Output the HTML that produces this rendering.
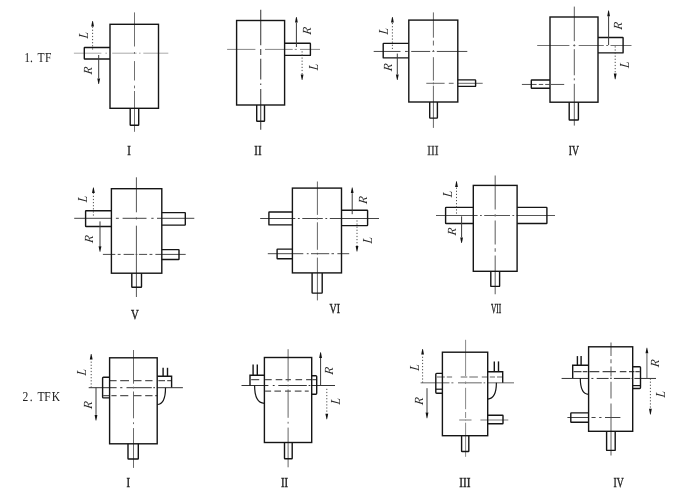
<!DOCTYPE html>
<html lang="en"><head><meta charset="utf-8"><title>TF / TFK</title>
<style>
html,body{margin:0;padding:0;background:#fff;}
body{width:681px;height:492px;overflow:hidden;}
svg{display:block;will-change:transform;}
.o{fill:none;stroke:#151515;stroke-linejoin:miter;stroke-linecap:butt;}
.it{font-family:"Liberation Serif",serif;font-style:italic;fill:#2a2a2a;}
.rm{font-family:"Liberation Serif",serif;}
</style></head>
<body>
<svg width="681" height="492" viewBox="0 0 681 492">
<rect x="0" y="0" width="681" height="492" fill="#fff"/>
<!-- row 1: TF -->
<text transform="translate(0,61.9) scale(0.85,1)" x="28.47 35.18 40.0 44.24 52.94" y="0" class="rm" text-rendering="geometricPrecision" font-size="13.6" fill="#222">1. TF</text>
<!-- TF I -->
<path d="M73.9,53.2H101.4M105.4,53.2H107M112.2,53.2H136.6M139,53.2H140.6M143.3,53.2H168.3" fill="none" stroke="#a0a0a0" stroke-width="0.9"/>
<path d="M134.5,12.4V46.5M134.5,52V53.8M134.5,61.1V80.5M134.5,85.6V88.3M134.5,91V131.8" fill="none" stroke="#707070" stroke-width="1.0"/>
<rect x="110" y="24.3" width="48.5" height="84.0" class="o" stroke-width="1.4"/>
<path d="M110,47.5 H84.8 Q84.3,47.5 84.3,48.0 V58.5 Q84.3,59 84.8,59 H110" class="o" stroke-width="1.4"/>
<path d="M130.2,108.3 V124.7 Q130.2,125.2 130.7,125.2 H138.2 Q138.7,125.2 138.7,124.7 V108.3" class="o" stroke-width="1.4"/>
<line x1="92.6" y1="49.5" x2="92.6" y2="26.6" stroke="#444" stroke-width="0.95" stroke-dasharray="1.2 1.9"/>
<path d="M92.3,21 L92.9,21 L94.0,26.6 L91.2,26.6 Z" fill="#111"/>
<line x1="98.7" y1="55" x2="98.7" y2="78.4" stroke="#3a3a3a" stroke-width="1.0"/>
<path d="M98.4,84 L99.0,84 L100.1,78.4 L97.3,78.4 Z" fill="#111"/>
<text transform="translate(84,35) rotate(-90) scale(0.85,1) skewX(-8)" x="0" y="0" text-anchor="middle" dominant-baseline="central" class="it" font-size="13.8">L</text>
<text transform="translate(88,70.5) rotate(-90) scale(1.0,1) skewX(-8)" x="0" y="0" text-anchor="middle" dominant-baseline="central" class="it" font-size="12.4">R</text>
<text x="127.2" y="155.2" text-anchor="start" class="rm" text-rendering="geometricPrecision" font-size="13.8" fill="#222" textLength="3.6" lengthAdjust="spacingAndGlyphs" stroke="#222" stroke-width="0.4">I</text>
<!-- TF II -->
<path d="M227.1,49.4H255.4M265,49.4H292.7M294.7,49.4H296.8M300,49.4H320" fill="none" stroke="#888" stroke-width="1.0"/>
<path d="M260.7,9.8V45.2M260.7,48.9V55M260.7,58.8V79.5M260.7,83.5V85.1M260.7,89V129.7" fill="none" stroke="#555" stroke-width="1.2"/>
<rect x="236.6" y="20.5" width="48.0" height="84.5" class="o" stroke-width="1.4"/>
<path d="M284.6,43.3 H309.9 Q310.4,43.3 310.4,43.8 V54.9 Q310.4,55.4 309.9,55.4 H284.6" class="o" stroke-width="1.4"/>
<path d="M256.7,105 V120.8 Q256.7,121.3 257.2,121.3 H264.0 Q264.5,121.3 264.5,120.8 V105" class="o" stroke-width="1.4"/>
<line x1="296.4" y1="47" x2="296.4" y2="22.6" stroke="#3a3a3a" stroke-width="1.0"/>
<path d="M296.1,17 L296.7,17 L297.8,22.6 L295.0,22.6 Z" fill="#111"/>
<line x1="302.1" y1="51.3" x2="302.1" y2="74.4" stroke="#444" stroke-width="0.95" stroke-dasharray="1.2 1.9"/>
<path d="M301.8,80 L302.4,80 L303.5,74.4 L300.7,74.4 Z" fill="#111"/>
<text transform="translate(307,30.6) rotate(-90) scale(1.0,1) skewX(-8)" x="0" y="0" text-anchor="middle" dominant-baseline="central" class="it" font-size="12.4">R</text>
<text transform="translate(313.6,66.8) rotate(-90) scale(0.85,1) skewX(-8)" x="0" y="0" text-anchor="middle" dominant-baseline="central" class="it" font-size="13.8">L</text>
<text x="254.3" y="155.2" text-anchor="start" class="rm" text-rendering="geometricPrecision" font-size="13.8" fill="#222" textLength="7.2" lengthAdjust="spacingAndGlyphs" stroke="#222" stroke-width="0.4">II</text>
<!-- TF III -->
<path d="M373.7,51.45H400.5M405,51.45H407.8M411.2,51.45H430.2M432.4,51.45H434.4M436.8,51.45H467.3" fill="none" stroke="#4a4a4a" stroke-width="1.0"/>
<path d="M433.4,12.4V37.7M433.4,40.6V45.5M433.4,50V52M433.4,57.2V80.6M433.4,82.5V84.3M433.4,85.7V127.9" fill="none" stroke="#666" stroke-width="1.0"/>
<path d="M426.3,83.3H444.6M448.8,83.3H453.6M457.8,83.3H482.7" fill="none" stroke="#666" stroke-width="1.0"/>
<rect x="408.8" y="20.1" width="49.0" height="81.9" class="o" stroke-width="1.4"/>
<path d="M408.8,43.4 H383.7 Q383.2,43.4 383.2,43.9 V57.4 Q383.2,57.9 383.7,57.9 H408.8" class="o" stroke-width="1.4"/>
<path d="M457.8,79.9 H475.1 Q475.6,79.9 475.6,80.4 V85.9 Q475.6,86.4 475.1,86.4 H457.8" class="o" stroke-width="1.4"/>
<path d="M429.7,102 V117.6 Q429.7,118.1 430.2,118.1 H436.9 Q437.4,118.1 437.4,117.6 V102" class="o" stroke-width="1.4"/>
<line x1="392.4" y1="49" x2="392.4" y2="22.6" stroke="#444" stroke-width="0.95" stroke-dasharray="1.2 1.9"/>
<path d="M392.1,17 L392.7,17 L393.8,22.6 L391.0,22.6 Z" fill="#111"/>
<line x1="397.3" y1="53.6" x2="397.3" y2="74.4" stroke="#3a3a3a" stroke-width="1.0"/>
<path d="M397.0,80 L397.6,80 L398.7,74.4 L395.9,74.4 Z" fill="#111"/>
<text transform="translate(384,31) rotate(-90) scale(0.85,1) skewX(-8)" x="0" y="0" text-anchor="middle" dominant-baseline="central" class="it" font-size="13.8">L</text>
<text transform="translate(388,67.2) rotate(-90) scale(1.0,1) skewX(-8)" x="0" y="0" text-anchor="middle" dominant-baseline="central" class="it" font-size="12.4">R</text>
<text x="427.3" y="155.2" text-anchor="start" class="rm" text-rendering="geometricPrecision" font-size="13.8" fill="#444" textLength="11.2" lengthAdjust="spacingAndGlyphs" stroke="#444" stroke-width="0.4">III</text>
<!-- TF IV -->
<path d="M537.2,45.5H569.4M573.2,45.5H575.4M578.7,45.5H603.8M606.2,45.5H608.2M610.5,45.5H631.5" fill="none" stroke="#707070" stroke-width="1.0"/>
<path d="M574.3,6.6V41.2M574.3,44.4V46.4M574.3,49.2V75.3M574.3,78.3V80.3M574.3,83.8V125.6" fill="none" stroke="#5c5c5c" stroke-width="1.0"/>
<path d="M521.9,84.45H536.6M538.8,84.45H543.2M545.2,84.45H549.5M551,84.45H564.2" fill="none" stroke="#505050" stroke-width="1.0"/>
<rect x="550" y="17" width="48" height="85.2" class="o" stroke-width="1.4"/>
<path d="M598,37.5 H622.6 Q623.1,37.5 623.1,38.0 V52.4 Q623.1,52.9 622.6,52.9 H598" class="o" stroke-width="1.4"/>
<path d="M550,80 H531.8 Q531.3,80 531.3,80.5 V87.7 Q531.3,88.2 531.8,88.2 H550" class="o" stroke-width="1.4"/>
<path d="M569.2,102.2 V119.5 Q569.2,120 569.7,120 H577.9 Q578.4,120 578.4,119.5 V102.2" class="o" stroke-width="1.4"/>
<line x1="608.6" y1="45" x2="608.6" y2="16.2" stroke="#3a3a3a" stroke-width="1.0"/>
<path d="M608.3,10.6 L608.9,10.6 L610.0,16.2 L607.2,16.2 Z" fill="#111"/>
<line x1="615.2" y1="46.3" x2="615.2" y2="73.6" stroke="#444" stroke-width="0.95" stroke-dasharray="1.2 1.9"/>
<path d="M614.9,79.2 L615.5,79.2 L616.6,73.6 L613.8,73.6 Z" fill="#111"/>
<text transform="translate(618.4,25.6) rotate(-90) scale(1.0,1) skewX(-8)" x="0" y="0" text-anchor="middle" dominant-baseline="central" class="it" font-size="12.4">R</text>
<text transform="translate(625,64.5) rotate(-90) scale(0.85,1) skewX(-8)" x="0" y="0" text-anchor="middle" dominant-baseline="central" class="it" font-size="13.8">L</text>
<text x="568.7" y="155.2" text-anchor="start" class="rm" text-rendering="geometricPrecision" font-size="13.8" fill="#222" textLength="10.2" lengthAdjust="spacingAndGlyphs" stroke="#222" stroke-width="0.4">IV</text>
<!-- row 2 -->
<!-- TF V -->
<path d="M74.2,218.3H111.6M115.9,218.3H118.8M122.6,218.3H146.5M151.3,218.3H153.6M157,218.3H194.3" fill="none" stroke="#444" stroke-width="1.0"/>
<path d="M136.4,177.3V212.3M136.4,217.4V219.4M136.4,225.7V297" fill="none" stroke="#555" stroke-width="1.0"/>
<path d="M102.9,254.4H115.3M117.7,254.4H120.6M123.6,254.4H134.2M135.6,254.4H137.4M138.9,254.4H147.1M149.5,254.4H152.4M155.4,254.4H185.7" fill="none" stroke="#4a4a4a" stroke-width="1.0"/>
<rect x="111.4" y="188.7" width="50.4" height="84.5" class="o" stroke-width="1.4"/>
<path d="M111.4,210.7 H86.1 Q85.6,210.7 85.6,211.2 V226.0 Q85.6,226.5 86.1,226.5 H111.4" class="o" stroke-width="1.4"/>
<path d="M161.8,212.6 H184.8 Q185.3,212.6 185.3,213.1 V224.6 Q185.3,225.1 184.8,225.1 H161.8" class="o" stroke-width="1.4"/>
<path d="M161.8,249.6 H178.5 Q179,249.6 179,250.1 V259.0 Q179,259.5 178.5,259.5 H161.8" class="o" stroke-width="1.4"/>
<path d="M131.8,273.2 V286.7 Q131.8,287.2 132.3,287.2 H141.0 Q141.5,287.2 141.5,286.7 V273.2" class="o" stroke-width="1.4"/>
<line x1="93.4" y1="215.6" x2="93.4" y2="193.1" stroke="#444" stroke-width="0.95" stroke-dasharray="1.2 1.9"/>
<path d="M93.1,187.5 L93.7,187.5 L94.8,193.1 L92.0,193.1 Z" fill="#111"/>
<line x1="100" y1="221.4" x2="100" y2="246.2" stroke="#3a3a3a" stroke-width="1.0"/>
<path d="M99.7,251.8 L100.3,251.8 L101.4,246.2 L98.6,246.2 Z" fill="#111"/>
<text transform="translate(83,198.8) rotate(-90) scale(0.85,1) skewX(-8)" x="0" y="0" text-anchor="middle" dominant-baseline="central" class="it" font-size="13.8">L</text>
<text transform="translate(88.6,238.9) rotate(-90) scale(1.0,1) skewX(-8)" x="0" y="0" text-anchor="middle" dominant-baseline="central" class="it" font-size="12.4">R</text>
<text x="131.0" y="319.2" text-anchor="start" class="rm" text-rendering="geometricPrecision" font-size="13.8" fill="#222" textLength="7.8" lengthAdjust="spacingAndGlyphs" stroke="#222" stroke-width="0.4">V</text>
<!-- TF VI -->
<path d="M260.2,218.5H295.3M297.9,218.5H299.7M302.3,218.5H322.8M325.4,218.5H327.2M329.8,218.5H379" fill="none" stroke="#444" stroke-width="1.0"/>
<path d="M317.4,181.5V214.9M317.4,217.7V219.5M317.4,222.3V249.8M317.4,252.8V254.6M317.4,257.6V300.4" fill="none" stroke="#666" stroke-width="1.0"/>
<path d="M267.8,253.7H303.3M306.8,253.7H308.6M311,253.7H329.2M331.5,253.7H334M337.4,253.7H349.2" fill="none" stroke="#4a4a4a" stroke-width="1.0"/>
<rect x="292.4" y="188.1" width="49.1" height="84.8" class="o" stroke-width="1.4"/>
<path d="M292.4,212 H269.4 Q268.9,212 268.9,212.5 V224.4 Q268.9,224.9 269.4,224.9 H292.4" class="o" stroke-width="1.4"/>
<path d="M341.5,210.3 H367.1 Q367.6,210.3 367.6,210.8 V225.1 Q367.6,225.6 367.1,225.6 H341.5" class="o" stroke-width="1.4"/>
<path d="M292.4,249.1 H277.6 Q277.1,249.1 277.1,249.6 V258.3 Q277.1,258.8 277.6,258.8 H292.4" class="o" stroke-width="1.4"/>
<path d="M312.1,272.9 V292.6 Q312.1,293.1 312.6,293.1 H321.7 Q322.2,293.1 322.2,292.6 V272.9" class="o" stroke-width="1.4"/>
<line x1="352.2" y1="214.2" x2="352.2" y2="193.1" stroke="#3a3a3a" stroke-width="1.0"/>
<path d="M351.9,187.5 L352.5,187.5 L353.6,193.1 L350.8,193.1 Z" fill="#111"/>
<line x1="357" y1="220.4" x2="357" y2="246.0" stroke="#444" stroke-width="0.95" stroke-dasharray="1.2 1.9"/>
<path d="M356.7,251.6 L357.3,251.6 L358.4,246.0 L355.6,246.0 Z" fill="#111"/>
<text transform="translate(363.1,199.8) rotate(-90) scale(1.0,1) skewX(-8)" x="0" y="0" text-anchor="middle" dominant-baseline="central" class="it" font-size="12.4">R</text>
<text transform="translate(367.5,240) rotate(-90) scale(0.85,1) skewX(-8)" x="0" y="0" text-anchor="middle" dominant-baseline="central" class="it" font-size="13.8">L</text>
<text x="329.45" y="313.4" text-anchor="start" class="rm" text-rendering="geometricPrecision" font-size="13.8" fill="#222" textLength="10.5" lengthAdjust="spacingAndGlyphs" stroke="#222" stroke-width="0.4">VI</text>
<!-- TF VII -->
<path d="M436,215.5H477.6M480,215.5H481.8M484.2,215.5H510M512.4,215.5H514.2M516.6,215.5H555" fill="none" stroke="#555" stroke-width="1.0"/>
<path d="M495.2,175.4V209.5M495.2,214.2V216.4M495.2,220.5V244.6M495.2,248.2V251.8M495.2,255.5V294.2" fill="none" stroke="#707070" stroke-width="1.15"/>
<rect x="473.3" y="185.4" width="43.8" height="85.9" class="o" stroke-width="1.4"/>
<path d="M473.3,207.4 H446.1 Q445.6,207.4 445.6,207.9 V223.0 Q445.6,223.5 446.1,223.5 H473.3" class="o" stroke-width="1.4"/>
<path d="M517.1,207.4 H546.4 Q546.9,207.4 546.9,207.9 V223.0 Q546.9,223.5 546.4,223.5 H517.1" class="o" stroke-width="1.4"/>
<path d="M490.8,271.3 V285.9 Q490.8,286.4 491.3,286.4 H499.1 Q499.6,286.4 499.6,285.9 V271.3" class="o" stroke-width="1.4"/>
<line x1="456.5" y1="213.6" x2="456.5" y2="186.9" stroke="#444" stroke-width="0.95" stroke-dasharray="1.2 1.9"/>
<path d="M456.2,181.3 L456.8,181.3 L457.9,186.9 L455.1,186.9 Z" fill="#111"/>
<line x1="461.6" y1="216.3" x2="461.6" y2="237.4" stroke="#3a3a3a" stroke-width="1.0"/>
<path d="M461.3,243 L461.9,243 L463.0,237.4 L460.2,237.4 Z" fill="#111"/>
<text transform="translate(447.6,193.6) rotate(-90) scale(0.85,1) skewX(-8)" x="0" y="0" text-anchor="middle" dominant-baseline="central" class="it" font-size="13.8">L</text>
<text transform="translate(451.7,231.3) rotate(-90) scale(1.0,1) skewX(-8)" x="0" y="0" text-anchor="middle" dominant-baseline="central" class="it" font-size="12.4">R</text>
<text x="490.9" y="313.4" text-anchor="start" class="rm" text-rendering="geometricPrecision" font-size="13.8" fill="#222" textLength="10.4" lengthAdjust="spacingAndGlyphs" stroke="#222" stroke-width="0.4">VII</text>
<!-- row 3: TFK -->
<text transform="translate(0,400.9) scale(0.85,1)" x="26.47 35.06 40.0 44.24 52.12 60.94" y="0" class="rm" text-rendering="geometricPrecision" font-size="13.6" fill="#222">2. TFK</text>
<!-- TFK I -->
<path d="M88.7,387.7H116.6M120.2,387.7H122.4M126.5,387.7H151.8M153.3,387.7H155M157,387.7H182.9" fill="none" stroke="#333" stroke-width="1.0"/>
<path d="M133.5,350V383.7M133.5,386.7V388.5M133.5,391.5V418.3M133.5,422.3V424.1M133.5,428.1V467.9" fill="none" stroke="#6a6a6a" stroke-width="1.0"/>
<path d="M110,380.65H116.6M120.2,380.65H129M133.5,380.65H141.5M145.2,380.65H152.5M158.4,380.65H165M167.2,380.65H171.6" fill="none" stroke="#555" stroke-width="1.2"/>
<path d="M103.2,395.7H109M111.4,395.7H116.6M120.2,395.7H128.3M133.5,395.7H141.5M145.2,395.7H152.5M155.2,395.7H157.2" fill="none" stroke="#555" stroke-width="1.2"/>
<rect x="109.6" y="357.8" width="47.6" height="86.0" class="o" stroke-width="1.4"/>
<path d="M109.4,377.3 H103.5 Q102.6,377.3 102.6,378.2 V397.0 Q102.6,397.9 103.5,397.9 H109.4" class="o" stroke-width="1.4"/>
<path d="M157.2,376.3 L171.6,376.3 L171.6,387.6" class="o" stroke-width="1.4"/>
<path d="M163.1,367.8 L163.1,376.3" class="o" stroke-width="1.4"/>
<path d="M167.5,367.8 L167.5,376.3" class="o" stroke-width="1.4"/>
<path d="M165.5,387.7 C165.5,398.5 163,404.3 157.2,404.5" class="o" stroke-width="1.2"/>
<path d="M128,443.8 V458.5 Q128,459 128.5,459 H137.8 Q138.3,459 138.3,458.5 V443.8" class="o" stroke-width="1.4"/>
<line x1="91.2" y1="387.6" x2="91.2" y2="359.6" stroke="#444" stroke-width="0.95" stroke-dasharray="1.2 1.9"/>
<path d="M90.9,354 L91.5,354 L92.6,359.6 L89.8,359.6 Z" fill="#111"/>
<line x1="96" y1="387.6" x2="96" y2="414.9" stroke="#3a3a3a" stroke-width="1.0"/>
<path d="M95.7,420.5 L96.3,420.5 L97.4,414.9 L94.6,414.9 Z" fill="#111"/>
<text transform="translate(81.6,372) rotate(-90) scale(0.85,1) skewX(-8)" x="0" y="0" text-anchor="middle" dominant-baseline="central" class="it" font-size="13.8">L</text>
<text transform="translate(87.8,405) rotate(-90) scale(1.0,1) skewX(-8)" x="0" y="0" text-anchor="middle" dominant-baseline="central" class="it" font-size="12.4">R</text>
<text x="126.6" y="487.2" text-anchor="start" class="rm" text-rendering="geometricPrecision" font-size="13.8" fill="#222" textLength="3.6" lengthAdjust="spacingAndGlyphs" stroke="#222" stroke-width="0.4">I</text>
<!-- TFK II -->
<path d="M241.5,385.5H268.4M272.8,385.5H274.6M278.3,385.5H306.8M308.6,385.5H310.4M312,385.5H335" fill="none" stroke="#333" stroke-width="1.0"/>
<path d="M288.1,349.2V381.6M288.1,384.6V386.4M288.1,389.4V417.8M288.1,421.8V423.6M288.1,427.6V467.3" fill="none" stroke="#666" stroke-width="1.0"/>
<path d="M251.2,379.6H259.2M265.1,379.6H271.7M275.7,379.6H282.3M285.6,379.6H290.9M295.5,379.6H302.1M306.1,379.6H311.5M312.4,379.6H316.4" fill="none" stroke="#555" stroke-width="1.2"/>
<path d="M265.1,391.2H271.1M274.4,391.2H281M285,391.2H290.9M294.8,391.2H301.5M304.8,391.2H308.7" fill="none" stroke="#555" stroke-width="1.2"/>
<rect x="264.4" y="357.5" width="47.3" height="85.0" class="o" stroke-width="1.4"/>
<path d="M311.7,375.7 H315.8 Q316.7,375.7 316.7,376.6 V393.3 Q316.7,394.2 315.8,394.2 H311.7" class="o" stroke-width="1.4"/>
<path d="M264.4,375.2 L250,375.2 L250,385.5" class="o" stroke-width="1.4"/>
<path d="M253.1,364.5 L253.1,375.2" class="o" stroke-width="1.4"/>
<path d="M257.3,364.5 L257.3,375.2" class="o" stroke-width="1.4"/>
<path d="M254.6,385.5 C254.6,397 257.5,403.1 264.4,403.3" class="o" stroke-width="1.2"/>
<path d="M284.5,442.5 V458.3 Q284.5,458.8 285.0,458.8 H291.7 Q292.2,458.8 292.2,458.3 V442.5" class="o" stroke-width="1.4"/>
<line x1="320.6" y1="385.1" x2="320.6" y2="357.9" stroke="#3a3a3a" stroke-width="1.0"/>
<path d="M320.3,352.3 L320.9,352.3 L322.0,357.9 L319.2,357.9 Z" fill="#111"/>
<line x1="326.8" y1="388.8" x2="326.8" y2="413.7" stroke="#444" stroke-width="0.95" stroke-dasharray="1.2 1.9"/>
<path d="M326.5,419.3 L327.1,419.3 L328.2,413.7 L325.4,413.7 Z" fill="#111"/>
<text transform="translate(329,370.7) rotate(-90) scale(1.0,1) skewX(-8)" x="0" y="0" text-anchor="middle" dominant-baseline="central" class="it" font-size="12.4">R</text>
<text transform="translate(335.3,401) rotate(-90) scale(0.85,1) skewX(-8)" x="0" y="0" text-anchor="middle" dominant-baseline="central" class="it" font-size="13.8">L</text>
<text x="280.9" y="487.2" text-anchor="start" class="rm" text-rendering="geometricPrecision" font-size="13.8" fill="#222" textLength="7.2" lengthAdjust="spacingAndGlyphs" stroke="#222" stroke-width="0.4">II</text>
<!-- TFK III -->
<path d="M420.6,382.8H449.4M451.4,382.8H453.4M458,382.8H481.8M483.6,382.8H485.2M487.1,382.8H514" fill="none" stroke="#999" stroke-width="1.5"/>
<path d="M465.6,339.8V376M465.6,381.5V384M465.6,387.8V409.2M465.6,412V418M465.6,419.5V421M465.6,422.7V456.8" fill="none" stroke="#888" stroke-width="1.0"/>
<path d="M459.2,420.1H471.5M480.4,420.1H508.3" fill="none" stroke="#a8a8a8" stroke-width="1.5"/>
<path d="M436.9,376.9H444.8M446.8,376.9H452.1M460.7,376.9H467.3M469.3,376.9H477.9M481.8,376.9H487.8M489.8,376.9H495M497,376.9H502.3" fill="none" stroke="#999" stroke-width="1.5"/>
<rect x="442.4" y="352.2" width="45.3" height="83.5" class="o" stroke-width="1.4"/>
<path d="M442.4,373.4 H436.7 Q435.8,373.4 435.8,374.3 V392.3 Q435.8,393.2 436.7,393.2 H442.4" class="o" stroke-width="1.4"/>
<path d="M435.8,389.2 L442.4,389.2" class="o" stroke-width="1.2"/>
<path d="M487.7,371.7 L502.7,371.7 L502.7,382.8" class="o" stroke-width="1.4"/>
<path d="M494.3,361.4 L494.3,371.7" class="o" stroke-width="1.4"/>
<path d="M498.5,361.4 L498.5,371.7" class="o" stroke-width="1.4"/>
<path d="M496.4,382.8 C496.4,393 493.5,398.8 487.7,399.1" class="o" stroke-width="1.2"/>
<path d="M487.7,415.3 H502.5 Q503,415.3 503,415.8 V423.3 Q503,423.8 502.5,423.8 H487.7" class="o" stroke-width="1.4"/>
<path d="M461.6,435.7 V451.0 Q461.6,451.5 462.1,451.5 H468.3 Q468.8,451.5 468.8,451.0 V435.7" class="o" stroke-width="1.4"/>
<line x1="422.6" y1="382.7" x2="422.6" y2="354.6" stroke="#444" stroke-width="0.95" stroke-dasharray="1.2 1.9"/>
<path d="M422.3,349 L422.9,349 L424.0,354.6 L421.2,354.6 Z" fill="#111"/>
<line x1="427" y1="388.2" x2="427" y2="412.6" stroke="#3a3a3a" stroke-width="1.0"/>
<path d="M426.7,418.2 L427.3,418.2 L428.4,412.6 L425.6,412.6 Z" fill="#111"/>
<text transform="translate(415,367.3) rotate(-90) scale(0.85,1) skewX(-8)" x="0" y="0" text-anchor="middle" dominant-baseline="central" class="it" font-size="13.8">L</text>
<text transform="translate(418.6,400.8) rotate(-90) scale(1.0,1) skewX(-8)" x="0" y="0" text-anchor="middle" dominant-baseline="central" class="it" font-size="12.4">R</text>
<text x="459.2" y="487.2" text-anchor="start" class="rm" text-rendering="geometricPrecision" font-size="13.8" fill="#222" textLength="11.2" lengthAdjust="spacingAndGlyphs" stroke="#222" stroke-width="0.4">III</text>
<!-- TFK IV -->
<path d="M561.6,378.45H588M591.4,378.45H593.4M596.7,378.45H608.6M610,378.45H611.8M613.9,378.45H630.4M631.5,378.45H633M634.4,378.45H656" fill="none" stroke="#333" stroke-width="1.0"/>
<path d="M611,342.4V356M611,359.3V363.2M611,366.5V376.4M611,377.4V379M611,381.7V398.5M611,403.5V455.5" fill="none" stroke="#808080" stroke-width="1.3"/>
<path d="M567.4,417.5H588M591.5,417.5H595.6M599.2,417.5H601.5M605,417.5H620.4" fill="none" stroke="#444" stroke-width="1.0"/>
<path d="M573.6,371.6H581.5M582.8,371.6H587.4M589.4,371.6H599.3M602.6,371.6H615.9M619.8,371.6H626.4M629,371.6H634.4M635.4,371.6H639.8" fill="none" stroke="#444" stroke-width="1.2"/>
<rect x="588.6" y="346.8" width="44.1" height="84.5" class="o" stroke-width="1.4"/>
<path d="M632.7,366.7 H639.6 Q640.5,366.7 640.5,367.6 V387.6 Q640.5,388.5 639.6,388.5 H632.7" class="o" stroke-width="1.4"/>
<path d="M632.7,385.6 L640.5,385.6" class="o" stroke-width="1.2"/>
<path d="M588.6,365.3 L572.7,365.3 L572.7,378" class="o" stroke-width="1.4"/>
<path d="M577.4,356.1 L577.4,365.3" class="o" stroke-width="1.4"/>
<path d="M581.1,356.1 L581.1,365.3" class="o" stroke-width="1.4"/>
<path d="M580.3,378.2 C580.3,388 583,394 588.6,394.3" class="o" stroke-width="1.2"/>
<path d="M588.6,412.9 H571.3 Q570.8,412.9 570.8,413.4 V421.7 Q570.8,422.2 571.3,422.2 H588.6" class="o" stroke-width="1.4"/>
<path d="M606.6,431.3 V449.9 Q606.6,450.4 607.1,450.4 H614.7 Q615.2,450.4 615.2,449.9 V431.3" class="o" stroke-width="1.4"/>
<line x1="646.9" y1="378" x2="646.9" y2="353.3" stroke="#8a8a8a" stroke-width="1.4"/>
<path d="M646.6,347.7 L647.2,347.7 L648.3,353.3 L645.5,353.3 Z" fill="#111"/>
<line x1="650.4" y1="378.5" x2="650.4" y2="408.8" stroke="#444" stroke-width="0.95" stroke-dasharray="1.2 1.9"/>
<path d="M650.1,414.4 L650.7,414.4 L651.8,408.8 L649.0,408.8 Z" fill="#111"/>
<text transform="translate(654.8,363.2) rotate(-90) scale(1.0,1) skewX(-8)" x="0" y="0" text-anchor="middle" dominant-baseline="central" class="it" font-size="12.4">R</text>
<text transform="translate(660.4,394) rotate(-90) scale(0.85,1) skewX(-8)" x="0" y="0" text-anchor="middle" dominant-baseline="central" class="it" font-size="13.8">L</text>
<text x="613.5" y="487.2" text-anchor="start" class="rm" text-rendering="geometricPrecision" font-size="13.8" fill="#222" textLength="10.2" lengthAdjust="spacingAndGlyphs" stroke="#222" stroke-width="0.4">IV</text>
</svg>
</body></html>
